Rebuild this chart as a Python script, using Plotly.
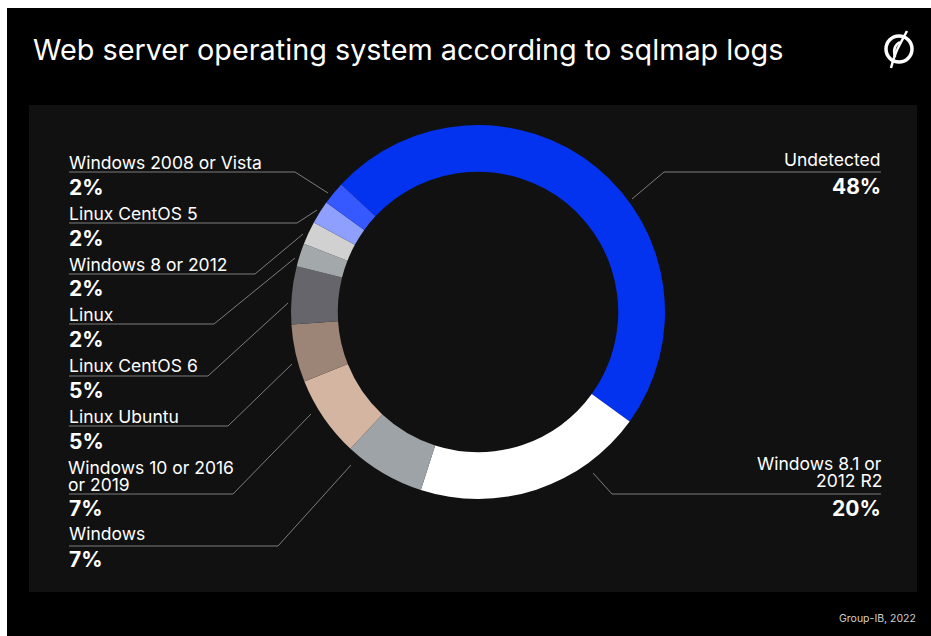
import plotly.graph_objects as go

W, H = 931, 636

# ---- data ----
categories = ["Undetected", "Windows 8.1 or<br>2012 R2", "Windows", "Windows 10 or 2016<br>or 2019",
              "Linux Ubuntu", "Linux CentOS 6", "Linux", "Windows 8 or 2012",
              "Linux CentOS 5", "Windows 2008 or Vista"]
values = [48, 20, 7, 7, 5, 5, 2, 2, 2, 2]
colors = ["#0433f0", "#ffffff", "#9ea3a7", "#d3b5a1", "#9c8477", "#66656b",
          "#a3a8ab", "#d1d1d1", "#8e9ffd", "#3558ff"]

# label layout (window pixel positions): side, text-centre-y, percent-centre-y, line-y, line-x-end, leader end
label_layout = {
    "Undetected": ("right", 159, 186, 172, 664, (632, 199)),
    "Windows 8.1 or<br>2012 R2": ("right", 471.5, 508, 494, 612, (593, 473)),
    "Windows 2008 or Vista": ("left", 162, 187, 172, 295, (328, 193)),
    "Linux CentOS 5": ("left", 213, 238, 223, 297, (317, 210)),
    "Windows 8 or 2012": ("left", 264, 288, 274, 255, (303, 234)),
    "Linux": ("left", 315, 339, 324, 214, (295, 258)),
    "Linux CentOS 6": ("left", 365, 390, 376, 208, (288, 303)),
    "Linux Ubuntu": ("left", 416, 441, 426, 228, (292, 364)),
    "Windows 10 or 2016<br>or 2019": ("left", 475.5, 508, 494, 233, (311, 414)),
    "Windows": ("left", 533, 559, 546, 278, (351, 465)),
}
LINE_STEP = 17


def px(x):
    return x / W


def py(y):
    return 1 - y / H


cx, cy, R = 478, 312, 187

fig = go.Figure(go.Pie(
    labels=categories,
    values=values,
    marker=dict(colors=colors, line=dict(width=0)),
    hole=0.75,
    sort=False,
    direction="clockwise",
    rotation=-47,
    textinfo="none",
    hoverinfo="label+percent",
    showlegend=False,
    domain=dict(x=[px(cx - R), px(cx + R)], y=[py(cy + R), py(cy - R)]),
))

shapes = [
    dict(type="rect", xref="paper", yref="paper", x0=px(7), x1=1, y0=0, y1=py(8),
         fillcolor="#000000", line=dict(width=0), layer="below"),
    dict(type="rect", xref="paper", yref="paper", x0=px(29), x1=px(917), y0=py(592), y1=py(105),
         fillcolor="#111111", line=dict(width=0), layer="below"),
    # logo
    dict(type="circle", xref="paper", yref="paper", x0=px(886), x1=px(912), y0=py(62), y1=py(36),
         line=dict(color="white", width=3.5)),
    dict(type="path", xref="paper", yref="paper",
         path=(f"M {px(907)} {py(31)} Q {px(900)} {py(44)} {px(897)} {py(50)} "
               f"Q {px(894)} {py(57)} {px(891)} {py(68)}"),
         line=dict(color="white", width=2.5)),
    dict(type="path", xref="paper", yref="paper",
         path=(f"M {px(900)} {py(42)} Q {px(892)} {py(46)} {px(895)} {py(57)}"),
         line=dict(color="white", width=2.5)),
]

annotations = [
    dict(text="Web server operating system according to sqlmap logs", x=px(31), y=py(50),
         xref="paper", yref="paper", xanchor="left", yanchor="middle", showarrow=False,
         font=dict(family="Inter", size=28.8, color="white")),
    dict(text="Group-IB, 2022", x=px(918), y=py(618), xref="paper", yref="paper",
         xanchor="right", yanchor="middle", showarrow=False,
         font=dict(family="Inter", size=10.5, color="#cfcfcf")),
]

line_color = "#7d7d7d"
for cat, val in zip(categories, values):
    side, ty, pcy, ly, lx, (ex, ey) = label_layout[cat]
    if side == "left":
        x_text, anchor, x_far = 67, "left", 69
    else:
        x_text, anchor, x_far = 883, "right", 881
    parts = cat.split("<br>")
    n = len(parts)
    for i, part in enumerate(parts):
        yy = ty + (i - (n - 1) / 2) * LINE_STEP
        extra = dict(height=15, borderpad=0) if n > 1 else {}
        annotations.append(dict(text=part, x=px(x_text), y=py(yy), xref="paper", yref="paper",
                                xanchor=anchor, yanchor="middle", showarrow=False,
                                font=dict(family="Inter", size=17.5, color="white"), **extra))
    annotations.append(dict(text=f"<b>{val}%</b>", x=px(x_text), y=py(pcy), xref="paper", yref="paper",
                            xanchor=anchor, yanchor="middle", showarrow=False,
                            font=dict(family="Inter", size=21, color="white")))
    shapes.append(dict(type="path", xref="paper", yref="paper",
                       path=f"M {px(x_far)} {py(ly)} L {px(lx)} {py(ly)} L {px(ex)} {py(ey)}",
                       line=dict(color=line_color, width=1)))

fig.update_layout(
    width=W, height=H,
    margin=dict(l=0, r=0, t=0, b=0),
    paper_bgcolor="#ffffff",
    plot_bgcolor="#ffffff",
    shapes=shapes,
    annotations=annotations,
)

fig.write_html(
    "out.html",
    config={"displayModeBar": False},
    post_script="document.body.style.margin='0';document.body.style.overflow='hidden';",
)
